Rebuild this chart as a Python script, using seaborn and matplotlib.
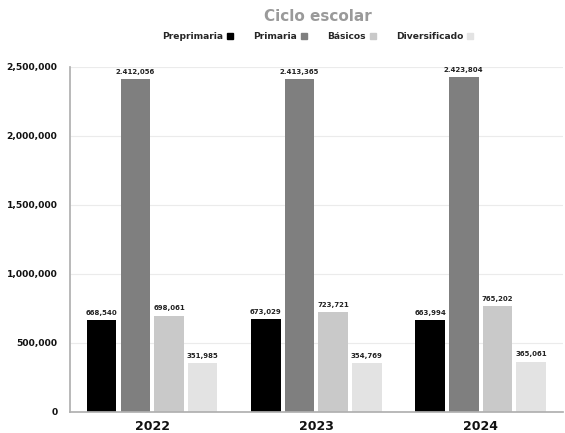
import matplotlib
matplotlib.use("Agg")
import matplotlib.pyplot as plt
import seaborn as sns
import pandas as pd
from matplotlib.lines import Line2D
from matplotlib.ticker import FuncFormatter

years = ["2022", "2023", "2024"]
levels = ["Preprimaria", "Primaria", "Básicos", "Diversificado"]
preprimaria = [668540, 673029, 663994]
primaria = [2412056, 2413365, 2423804]
basicos = [698061, 723721, 765202]
diversificado = [351985, 354769, 365061]
primaria_labels = ["2.412,056", "2.413,365", "2.423,804"]
colors = ["#000000", "#7f7f7f", "#c9c9c9", "#e3e3e3"]

sns.set_theme(style="white")
plt.rcParams['font.family'] = ['DejaVu Sans']

rows = []
for lvl, vals in zip(levels, [preprimaria, primaria, basicos, diversificado]):
    for y, v in zip(years, vals):
        rows.append({"Año": y, "Nivel": lvl, "Valor": v})
df = pd.DataFrame(rows)

fig = plt.figure(figsize=(5.65, 4.33), dpi=100)
ax = fig.add_axes([0.124, 0.0485, 0.872, 0.797])
sns.barplot(data=df, x="Año", y="Valor", hue="Nivel", hue_order=levels,
            order=years, palette=colors, width=0.82, gap=0.12,
            edgecolor="white", linewidth=0, ax=ax, legend=False, errorbar=None)

ax.set_ylim(0, 2500000)
ax.set_xlim(-0.5, 2.5)
ax.set_yticks([0, 500000, 1000000, 1500000, 2000000, 2500000])
ax.yaxis.set_major_formatter(FuncFormatter(lambda v, p: f"{int(v):,}"))
ax.grid(axis="y", color="#ebebeb", linewidth=0.8)
ax.set_axisbelow(True)
for s in ["top", "right"]:
    ax.spines[s].set_visible(False)
ax.spines["left"].set_color("#b0b0b0")
ax.spines["bottom"].set_color("#b0b0b0")
ax.tick_params(axis="y", length=0, pad=9, labelsize=6.6, labelcolor="#111111")
ax.tick_params(axis="x", length=4, width=0.8, color="#b0b0b0", pad=2, labelsize=9, labelcolor="#111111")
for lab in ax.get_yticklabels() + ax.get_xticklabels():
    lab.set_fontweight("bold")
ax.set_xlabel("")
ax.set_ylabel("")

for i, cont in enumerate(ax.containers):
    if i == 1:
        labels = primaria_labels
    else:
        labels = [f"{int(b.get_height()):,}" for b in cont]
    ax.bar_label(cont, labels=labels, padding=3, fontsize=5, fontweight="bold", color="#222222")

fig.text(0.563, 0.962, "Ciclo escolar", ha="center", va="center", fontsize=11,
         fontweight="bold", color="#9a9a9a")
handles = [Line2D([0], [0], marker="s", linestyle="", markersize=4.5, color=c) for c in colors]
leg = fig.legend(handles, levels, loc="center", bbox_to_anchor=(0.563, 0.915), ncol=4,
                 frameon=False, markerfirst=False, handlelength=0.8, handletextpad=0.3,
                 columnspacing=2.2, prop={"weight": "bold", "size": 6.6})

fig.savefig("out.png", dpi=100)
